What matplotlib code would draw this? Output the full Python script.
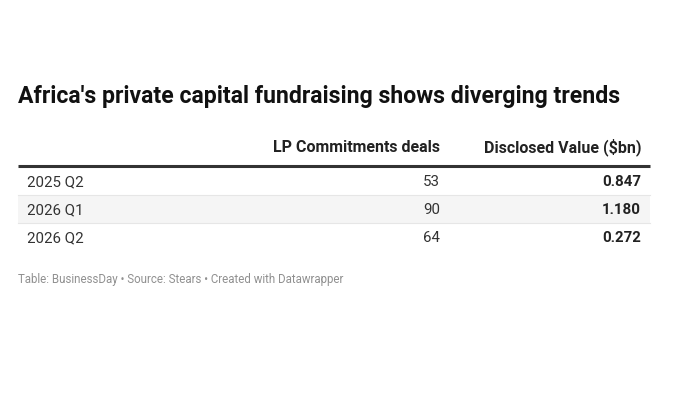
import matplotlib.pyplot as plt
from matplotlib.patches import Rectangle

plt.rcParams['font.family'] = 'Roboto'

# Table data
title = "Africa's private capital fundraising shows diverging trends"
col_headers = ["LP Commitments deals", "Disclosed Value ($bn)"]
quarters = ["2025 Q2", "2026 Q1", "2026 Q2"]
deals = [53, 90, 64]
values = [0.847, 1.180, 0.272]
footer = "Table: BusinessDay \u2022 Source: Stears \u2022 Created with Datawrapper"

fig = plt.figure(figsize=(7, 4), dpi=100)
ax = fig.add_axes([0, 0, 1, 1])
ax.set_xlim(0, 700)
ax.set_ylim(400, 0)
ax.axis('off')

left, right = 18, 650
col_x = [440, 641]
row_top = 167
row_h = 28

# positions are baselines, in pixels from the top
ax.text(left, 103, title, fontsize=16.6, fontweight='bold', color='#111111',
        va='baseline', ha='left')

for x, h in zip(col_x, col_headers):
    ax.text(x, 152.5, h, fontsize=11.5, fontweight='bold', color='#222222',
            va='baseline', ha='right')

ax.plot([left, right], [166, 166], color='#333333', lw=2.2, solid_capstyle='butt')

for i, (q, d, v) in enumerate(zip(quarters, deals, values)):
    y0 = row_top + i * row_h
    if i % 2 == 1:
        ax.add_patch(Rectangle((left, y0), right - left, row_h,
                               facecolor='#f5f5f5', edgecolor='none'))
    if i > 0:
        ax.plot([left, right], [y0, y0], color='#e6e6e6', lw=0.8)
    yb = y0 + 19.5
    ax.text(left + 9, yb, q, fontsize=10.8, color='#333333', va='baseline', ha='left')
    ax.text(col_x[0], yb, f"{d}", fontsize=10.8, color='#333333', va='baseline', ha='right')
    ax.text(col_x[1], yb, f"{v:.3f}", fontsize=10.8, fontweight='bold',
            color='#222222', va='baseline', ha='right')

ax.text(left, 283, footer, fontsize=8.3, color='#909090', va='baseline', ha='left')

fig.savefig('out.png', dpi=100, facecolor='white')
